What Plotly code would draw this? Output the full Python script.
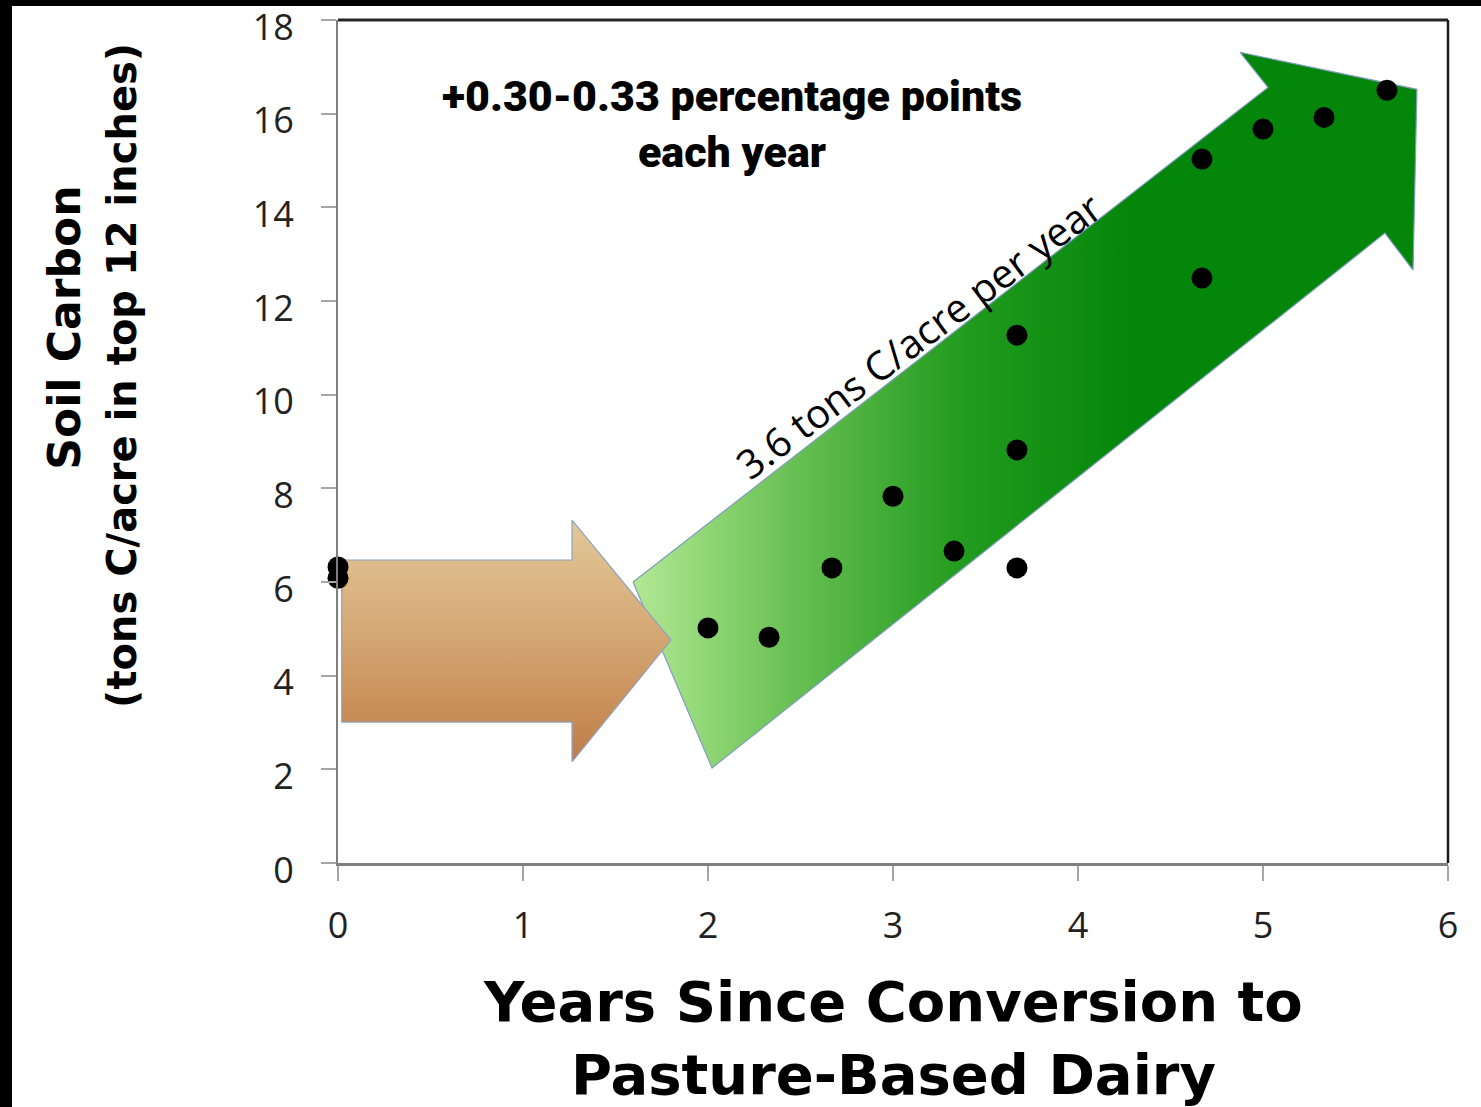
import plotly.graph_objects as go

# Soil carbon measurements (tons C/acre, top 12 inches) by years since conversion
years = [0, 0, 2.0, 2.33, 2.67, 3.0, 3.33, 3.67, 3.67, 3.67, 4.67, 4.67, 5.0, 5.33, 5.67]
soil_carbon = [6.32, 6.08, 5.02, 4.82, 6.30, 7.83, 6.66, 11.27, 8.82, 6.30, 15.03, 12.49, 15.67, 15.92, 16.50]

x_ticks = [0, 1, 2, 3, 4, 5, 6]
y_ticks = [0, 2, 4, 6, 8, 10, 12, 14, 16, 18]

# Outline of the brown "before conversion" block arrow (data units)
brown_arrow_x = [0.02, 1.265, 1.265, 1.80, 1.265, 1.265, 0.02, 0.02]
brown_arrow_y = [6.47, 6.47, 7.32, 4.76, 2.16, 3.01, 3.01, 6.47]

# Outline of the rising green "after conversion" arrow (data units)
green_arrow_x = [1.595, 5.027, 4.876, 5.832, 5.811, 5.659, 2.022, 1.595]
green_arrow_y = [6.00, 16.56, 17.31, 16.52, 12.66, 13.45, 2.03, 6.00]

W, H = 1481, 1107
ML, MR, MT, MB = 338, 33, 20, 244

fig = go.Figure()

fig.add_trace(go.Scatter(
    x=green_arrow_x, y=green_arrow_y, mode="lines", fill="toself",
    fillgradient=dict(
        type="horizontal",
        colorscale=[[0, "#B2E893"], [0.3, "#6CC256"], [0.65, "#239C1F"], [1, "#04860A"]],
        start=1.6, stop=4.3,
    ),
    line=dict(color="#7F9DBF", width=1.2),
    hoverinfo="skip", showlegend=False,
))

fig.add_trace(go.Scatter(
    x=brown_arrow_x, y=brown_arrow_y, mode="lines", fill="toself",
    fillgradient=dict(
        type="vertical",
        colorscale=[[0, "#C07D47"], [0.5, "#D3A571"], [1, "#E3C89A"]],
        start=2.16, stop=7.32,
    ),
    line=dict(color="#8DA3C2", width=1.2),
    hoverinfo="skip", showlegend=False,
))

fig.add_trace(go.Scatter(
    x=years, y=soil_carbon, mode="markers",
    marker=dict(size=21, color="black"),
    cliponaxis=False, showlegend=False,
))

tick_font = dict(family="Open Sans, sans-serif", size=36, color="#222222")

fig.update_layout(
    width=W, height=H,
    margin=dict(l=ML, r=MR, t=MT, b=MB, autoexpand=False),
    paper_bgcolor="white", plot_bgcolor="white",
    xaxis=dict(
        range=[0, 6], tickvals=x_ticks, ticktext=[str(v) for v in x_ticks],
        showgrid=False, zeroline=False, automargin=False,
        showline=True, linecolor="#7F7F7F", linewidth=3,
        ticks="outside", ticklen=15, tickwidth=2, tickcolor="#A6A6A6",
        tickfont=tick_font, ticklabelstandoff=14, ticklabeloverflow="allow",
    ),
    yaxis=dict(
        range=[0, 18], tickvals=y_ticks, ticktext=[str(v) for v in y_ticks],
        showgrid=False, zeroline=False, automargin=False,
        showline=True, linecolor="#7F7F7F", linewidth=2,
        ticks="outside", ticklen=15, tickwidth=2, tickcolor="#A6A6A6",
        tickfont=tick_font, ticklabelstandoff=20, ticklabelshift=7,
        ticklabeloverflow="allow",
    ),
    shapes=[
        # dark frame on the top and right of the plot area
        dict(type="line", xref="paper", yref="paper", x0=0, x1=1, y0=1, y1=1,
             line=dict(color="#262626", width=3)),
        dict(type="line", xref="paper", yref="paper", x0=1, x1=1, y0=0, y1=1,
             line=dict(color="#1A1A1A", width=2.5)),
        # black slide edges
        dict(type="rect", xref="paper", yref="paper",
             xsizemode="pixel", xanchor=0, x0=-ML - 5, x1=-ML + 12,
             ysizemode="pixel", yanchor=0, y0=-MB - 5, y1=H,
             fillcolor="black", line=dict(width=0)),
        dict(type="rect", xref="paper", yref="paper",
             xsizemode="pixel", xanchor=0, x0=-ML - 5, x1=W,
             ysizemode="pixel", yanchor=1, y0=MT - 6, y1=MT + 10,
             fillcolor="black", line=dict(width=0)),
    ],
    annotations=[
        dict(text="<b>Soil Carbon</b>", textangle=-90,
             xref="paper", yref="paper", x=-0.246, y=0.635,
             xanchor="center", yanchor="middle", showarrow=False,
             font=dict(family="DejaVu Sans", size=44, color="black")),
        dict(text="<b>(tons C/acre in top 12 inches)</b>", textangle=-90,
             xref="paper", yref="paper", x=-0.1946, y=0.579,
             xanchor="center", yanchor="middle", showarrow=False,
             font=dict(family="DejaVu Sans", size=40, color="black")),
        dict(text="<b>Years Since Conversion to</b><br><b>Pasture-Based Dairy</b>",
             xref="paper", yref="paper", x=0.5, y=-0.2076,
             xanchor="center", yanchor="middle", showarrow=False,
             font=dict(family="DejaVu Sans", size=56, color="black")),
        dict(text="+0.30-0.33 percentage points<br>each year",
             xref="paper", yref="paper", x=0.355, y=0.8766,
             xanchor="center", yanchor="middle", showarrow=False,
             font=dict(family="Roboto, sans-serif", size=43, weight=900, color="black")),
        dict(text="3.6 tons C/acre per year", textangle=-37,
             xref="paper", yref="paper", x=0.5225, y=0.6263,
             xanchor="center", yanchor="middle", showarrow=False,
             font=dict(family="Open Sans, sans-serif", size=40, color="black")),
    ],
)

fig.write_html("out.html")
